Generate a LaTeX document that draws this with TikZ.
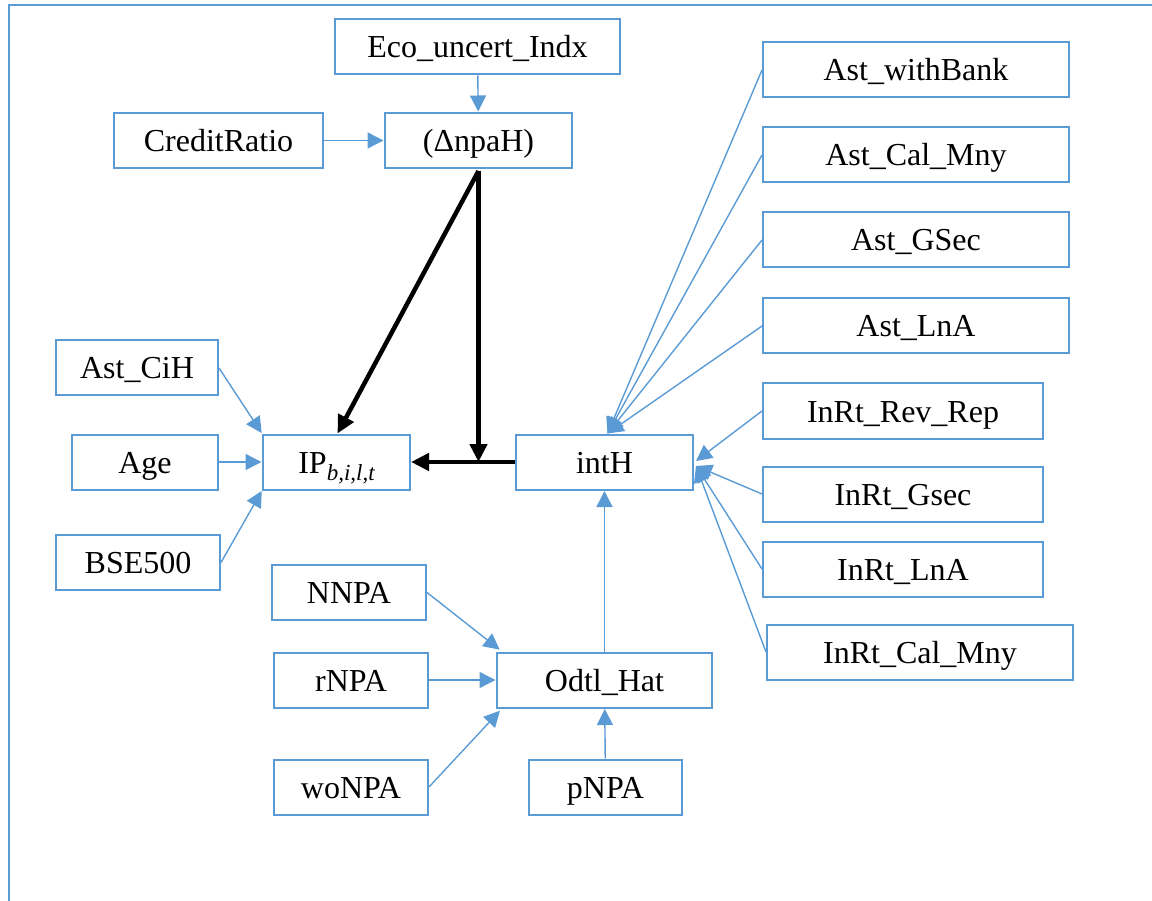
\documentclass[tikz,border=0pt]{standalone}
\usepackage{fontspec}
\setmainfont{Liberation Serif}
\usetikzlibrary{arrows.meta,calc}
\definecolor{obl}{HTML}{5B9BD5}
\begin{document}
\begin{tikzpicture}[x=1pt,y=-1pt,
  box/.style={draw=obl,line width=2pt,fill=white,inner sep=0pt,minimum height=55pt,text height=22pt,text depth=0pt,font=\fontsize{32}{36}\selectfont},
  barr/.style={draw=obl,line width=1.4pt,-{Triangle[length=16pt,width=16pt]},shorten >=0.5pt},
  karr/.style={draw=black,line width=4.5pt,-{Triangle[length=18pt,width=17pt]}}]
\useasboundingbox (0,0) rectangle (1152,901);
\draw[obl,line width=2.2pt] (9,901) -- (9,5) -- (1152,5);
% nodes
\node[box,minimum width=285pt] (eco) at (477.5,47) {Eco\_uncert\_Indx};
\node[box,minimum width=209pt] (cr) at (218.5,140.5) {CreditRatio};
\node[box,minimum width=187pt] (npa) at (478.5,140.5) {(ΔnpaH)};
\node[box,minimum width=306pt] (a1) at (916,70) {Ast\_withBank};
\node[box,minimum width=306pt] (a2) at (916,155) {Ast\_Cal\_Mny};
\node[box,minimum width=306pt] (a3) at (916,240) {Ast\_GSec};
\node[box,minimum width=306pt] (a4) at (916,326) {Ast\_LnA};
\node[box,minimum width=280pt] (r1) at (903,411) {InRt\_Rev\_Rep};
\node[box,minimum width=280pt] (r2) at (903,494) {InRt\_Gsec};
\node[box,minimum width=280pt] (r3) at (903,569) {InRt\_LnA};
\node[box,minimum width=306pt] (r4) at (920,652) {InRt\_Cal\_Mny};
\node[box,minimum width=162pt] (cih) at (137,368) {Ast\_CiH};
\node[box,minimum width=146pt] (age) at (145,462) {Age};
\node[box,minimum width=164pt] (bse) at (138,562.5) {BSE500};
\node[box,minimum width=147pt] (ip) at (336.5,462) {IP\raisebox{-0.22em}{\fontsize{23}{26}\selectfont\itshape b,i,l,t}};
\node[box,minimum width=177pt] (inth) at (604.5,462) {intH};
\node[box,minimum width=154pt] (nnpa) at (349,592.5) {NNPA};
\node[box,minimum width=154pt] (rnpa) at (351,680) {rNPA};
\node[box,minimum width=154pt] (wonpa) at (351,787) {woNPA};
\node[box,minimum width=215pt] (odtl) at (604.5,680) {Odtl\_Hat};
\node[box,minimum width=153pt] (pnpa) at (605.5,787) {pNPA};
% blue connectors
\draw[barr] (eco) -- (npa);
\draw[barr] (cr) -- (npa);
\draw[barr] (cih.east) -- (ip.north west);
\draw[barr] (age) -- (ip);
\draw[barr] (bse.east) -- (ip.south west);
\foreach \n in {a1,a2,a3,a4} \draw[barr,shorten >=0pt] (\n.west) -- ($(inth.north)+(3,0)$);
\draw[barr,shorten >=0pt] (r1.west) -- ($(inth.east)+(2,-1)$);
\foreach \n in {r2,r3,r4} \draw[barr,shorten >=0pt] (\n.west) -- ($(inth.east)+(2,4)$);
\draw[barr] (odtl) -- (inth);
\draw[barr,shorten >=3pt] (nnpa.east) -- ($(odtl.north west)+(6,0)$);
\draw[barr] (rnpa) -- (odtl);
\draw[barr,shorten >=3pt] (wonpa.east) -- ($(odtl.south west)+(6,0)$);
\draw[barr] (pnpa) -- (odtl);
% black connectors
\draw[karr] ($(npa.south)+(0,2)$) -- ($(ip.north)+(1,0)$);
\draw[karr] (inth.west) -- (ip.east);
\draw[karr] ($(npa.south)+(0,2)$) -- (npa.south |- inth.west);
\end{tikzpicture}
\end{document}
